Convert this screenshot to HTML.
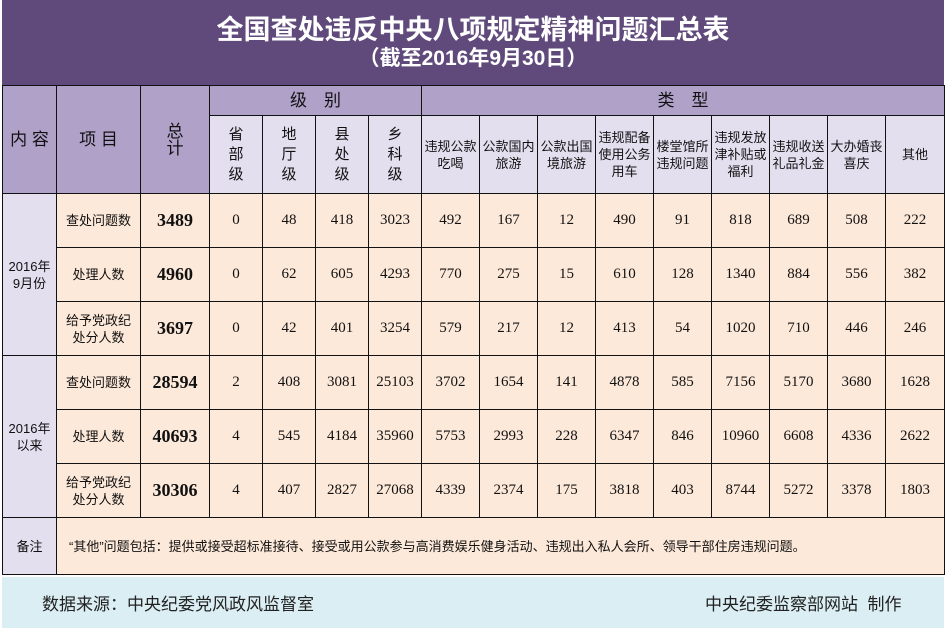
<!DOCTYPE html>
<html><head><meta charset="utf-8"><style>
html,body{margin:0;padding:0;width:946px;height:628px;overflow:hidden;background:#fff}
body{position:relative;font-family:"Liberation Sans","Noto Sans CJK SC",sans-serif}
#title{position:absolute;left:2px;top:0;width:942px;height:85px;background:#5f4a7b;color:#fff;text-align:center;font-weight:bold}
#title .t1{position:absolute;top:14px;left:0;width:100%;font-size:27px;line-height:32px}
#title .t2{position:absolute;top:46px;left:0;width:100%;font-size:21px;line-height:26px}
table{position:absolute;left:2px;top:85px;border-collapse:collapse;table-layout:fixed;width:942px}
td{border:1.5px solid #111;text-align:center;vertical-align:middle;padding:0;font-size:13px;color:#111;line-height:17px;overflow:hidden}
.h{background:#b0a1c9;font-size:17px}
.s{background:#e3dfef}
.p{background:#fde9d9}
.n{font-family:"Liberation Serif",serif;font-size:15px}
.b{font-family:"Liberation Serif",serif;font-size:18px;font-weight:bold}
.v{font-size:15px;line-height:20px}
#foot{position:absolute;left:2px;top:577px;width:942px;height:51px;background:#dbeef4;font-size:17px;color:#222}
</style></head><body>
<div id="title"><div class="t1">全国查处违反中央八项规定精神问题汇总表</div><div class="t2">（截至2016年9月30日）</div></div>
<table>
<colgroup><col style="width:54px"><col style="width:84px"><col style="width:69px"><col style="width:53px"><col style="width:53px"><col style="width:53px"><col style="width:53px"><col style="width:58px"><col style="width:58px"><col style="width:58px"><col style="width:58px"><col style="width:58px"><col style="width:58px"><col style="width:58px"><col style="width:58px"><col style="width:59px"></colgroup>
<tr style="height:30px"><td class="h" rowspan="2">内 容</td><td class="h" rowspan="2">项 目</td><td class="h" rowspan="2">总<br>计</td><td class="h" colspan="4">级　别</td><td class="h" colspan="9">类　型</td></tr>
<tr style="height:78px"><td class="s v">省<br>部<br>级</td><td class="s v">地<br>厅<br>级</td><td class="s v">县<br>处<br>级</td><td class="s v">乡<br>科<br>级</td><td class="s">违规公款<br>吃喝</td><td class="s">公款国内<br>旅游</td><td class="s">公款出国<br>境旅游</td><td class="s">违规配备<br>使用公务<br>用车</td><td class="s">楼堂馆所<br>违规问题</td><td class="s">违规发放<br>津补贴或<br>福利</td><td class="s">违规收送<br>礼品礼金</td><td class="s">大办婚丧<br>喜庆</td><td class="s">其他</td></tr>
<tr style="height:54px"><td class="s" rowspan="3">2016年<br>9月份</td><td class="p">查处问题数</td><td class="p b">3489</td><td class="p n">0</td><td class="p n">48</td><td class="p n">418</td><td class="p n">3023</td><td class="p n">492</td><td class="p n">167</td><td class="p n">12</td><td class="p n">490</td><td class="p n">91</td><td class="p n">818</td><td class="p n">689</td><td class="p n">508</td><td class="p n">222</td></tr>
<tr style="height:54px"><td class="p">处理人数</td><td class="p b">4960</td><td class="p n">0</td><td class="p n">62</td><td class="p n">605</td><td class="p n">4293</td><td class="p n">770</td><td class="p n">275</td><td class="p n">15</td><td class="p n">610</td><td class="p n">128</td><td class="p n">1340</td><td class="p n">884</td><td class="p n">556</td><td class="p n">382</td></tr>
<tr style="height:54px"><td class="p">给予党政纪<br>处分人数</td><td class="p b">3697</td><td class="p n">0</td><td class="p n">42</td><td class="p n">401</td><td class="p n">3254</td><td class="p n">579</td><td class="p n">217</td><td class="p n">12</td><td class="p n">413</td><td class="p n">54</td><td class="p n">1020</td><td class="p n">710</td><td class="p n">446</td><td class="p n">246</td></tr>
<tr style="height:54px"><td class="s" rowspan="3">2016年<br>以来</td><td class="p">查处问题数</td><td class="p b">28594</td><td class="p n">2</td><td class="p n">408</td><td class="p n">3081</td><td class="p n">25103</td><td class="p n">3702</td><td class="p n">1654</td><td class="p n">141</td><td class="p n">4878</td><td class="p n">585</td><td class="p n">7156</td><td class="p n">5170</td><td class="p n">3680</td><td class="p n">1628</td></tr>
<tr style="height:54px"><td class="p">处理人数</td><td class="p b">40693</td><td class="p n">4</td><td class="p n">545</td><td class="p n">4184</td><td class="p n">35960</td><td class="p n">5753</td><td class="p n">2993</td><td class="p n">228</td><td class="p n">6347</td><td class="p n">846</td><td class="p n">10960</td><td class="p n">6608</td><td class="p n">4336</td><td class="p n">2622</td></tr>
<tr style="height:54px"><td class="p">给予党政纪<br>处分人数</td><td class="p b">30306</td><td class="p n">4</td><td class="p n">407</td><td class="p n">2827</td><td class="p n">27068</td><td class="p n">4339</td><td class="p n">2374</td><td class="p n">175</td><td class="p n">3818</td><td class="p n">403</td><td class="p n">8744</td><td class="p n">5272</td><td class="p n">3378</td><td class="p n">1803</td></tr>
<tr style="height:57px"><td class="s">备注</td><td class="p" colspan="15" style="text-align:left;padding-left:12px">“其他”问题包括：提供或接受超标准接待、接受或用公款参与高消费娱乐健身活动、违规出入私人会所、领导干部住房违规问题。</td></tr>
</table>
<div id="foot"><span style="position:absolute;left:40px;top:13px">数据来源：中央纪委党风政风监督室</span><span style="position:absolute;left:703px;top:13px">中央纪委监察部网站&nbsp;&nbsp;制作</span></div>
</body></html>
